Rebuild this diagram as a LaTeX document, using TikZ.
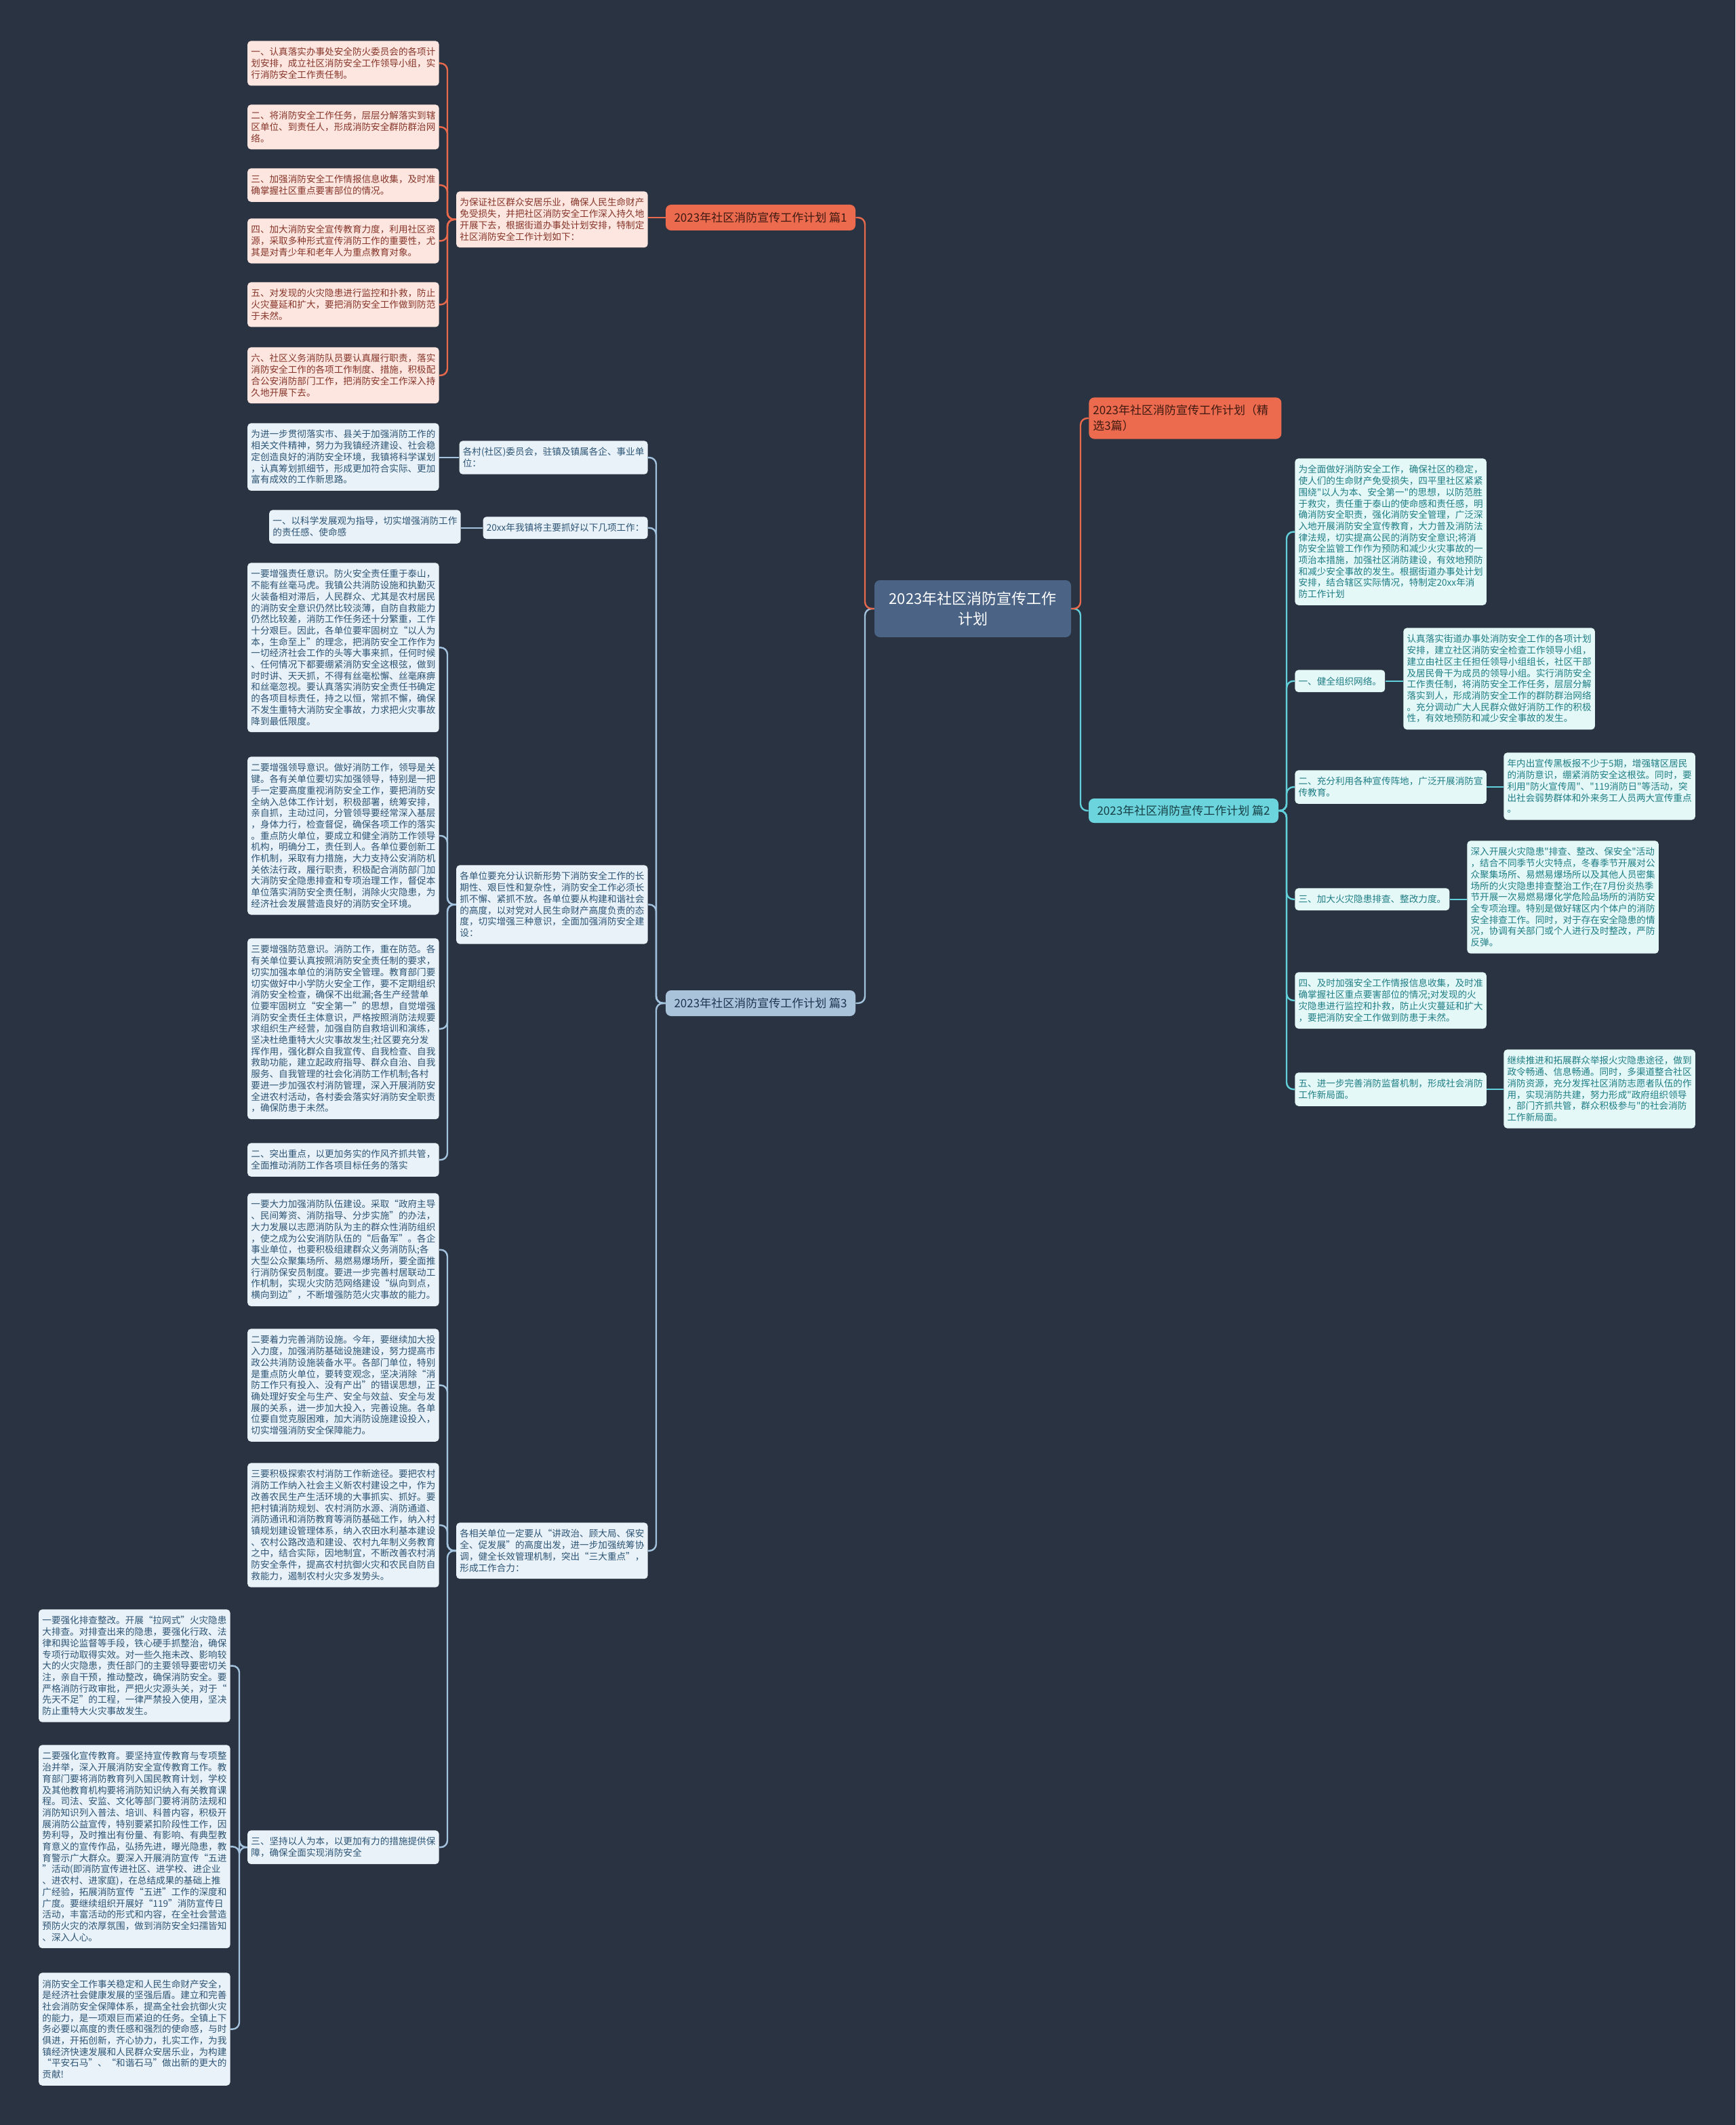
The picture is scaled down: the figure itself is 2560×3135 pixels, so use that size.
\documentclass[tikz,border=0pt]{standalone}
\usepackage{fontspec}
\setmainfont{Noto Sans CJK SC}
\newfontfamily\mmcjk{Noto Sans CJK SC}
\definecolor{bg}{HTML}{2A3341}
\definecolor{rootfill}{HTML}{4B6486}
\definecolor{orfill}{HTML}{EC6A4D}
\definecolor{orline}{HTML}{E8694B}
\definecolor{pkfill}{HTML}{FDE6DF}
\definecolor{pktext}{HTML}{86352A}
\definecolor{orhead}{HTML}{3D1A12}
\definecolor{blfill}{HTML}{A9C3DA}
\definecolor{blline}{HTML}{A3C3DE}
\definecolor{bxfill}{HTML}{E9F2F8}
\definecolor{bxtext}{HTML}{2D5475}
\definecolor{blhead}{HTML}{1F3550}
\definecolor{cyfill}{HTML}{6BD4DC}
\definecolor{cyline}{HTML}{62D0DA}
\definecolor{cxfill}{HTML}{E4F8F8}
\definecolor{cxtext}{HTML}{1F7D84}
\definecolor{cyhead}{HTML}{173F45}
\newcommand\mmboxfont{\mmcjk\fontsize{6.8pt}{8.35pt}\selectfont}
\newcommand\mmheadfont{\mmcjk\fontsize{8.5pt}{11.5pt}\selectfont}
\newcommand\mmrootfont{\mmcjk\fontsize{11pt}{15pt}\selectfont}
\tikzset{
  leaf/.style={rounded corners=2.5pt, inner xsep=2.6pt, inner ysep=5pt, align=left, font=\mmboxfont},
  pk/.style={leaf, fill=pkfill, text=pktext},
  bx/.style={leaf, fill=bxfill, text=bxtext},
  cx/.style={leaf, fill=cxfill, text=cxtext},
  head/.style={rounded corners=4pt, font=\mmheadfont, minimum width=140pt, minimum height=19pt, inner sep=3pt, align=center},
  conn/.style={line width=1.2pt, rounded corners=5pt},
  oc/.style={conn, draw=orline},
  bc/.style={conn, draw=blline},
  cc/.style={conn, draw=cyline},
}
\begin{document}
\begin{tikzpicture}[x=0.5pt,y=-0.5pt]
\fill[bg] (0,0) rectangle (2560,3135);
\useasboundingbox (0,0) rectangle (2560,3135);
% trunks
\coordinate (tA) at (1276,0);
\coordinate (tB) at (1594,0);
\coordinate (tP) at (660,0);
\coordinate (tQ) at (968,0);
\coordinate (tE) at (353,0);
\coordinate (tR) at (1898,0);
% root
\node[rounded corners=4pt, fill=rootfill, text=white, font=\mmrootfont, minimum width=145pt, minimum height=42pt, align=center] (root) at (1435,898) {2023年社区消防宣传工作\\计划};
% headers
\node[head, fill=orfill, text=orhead] (h1) at (1122,321) {2023年社区消防宣传工作计划 篇1};
\node[head, fill=blfill, text=blhead] (h3) at (1122,1480) {2023年社区消防宣传工作计划 篇3};
\node[head, fill=cyfill, text=cyhead, minimum height=18pt] (h2) at (1746,1196) {2023年社区消防宣传工作计划 篇2};
\node[rounded corners=4pt, fill=orfill, text=orhead, font=\mmheadfont, text width=136pt, inner xsep=3pt, inner ysep=5.5pt, align=left, anchor=north west] (h0) at (1606,586) {2023年社区消防宣传工作计划（精\\选3篇）};
% ---- 篇1
\node[pk, anchor=north east] (p7) at (956,282) {为保证社区群众安居乐业，确保人民生命财产\\免受损失，并把社区消防安全工作深入持久地\\开展下去，根据街道办事处计划安排，特制定\\社区消防安全工作计划如下：};
\node[pk, anchor=north east] (p1) at (648,60) {一、认真落实办事处安全防火委员会的各项计\\划安排，成立社区消防安全工作领导小组，实\\行消防安全工作责任制。};
\node[pk, anchor=north east] (p2) at (648,154) {二、将消防安全工作任务，层层分解落实到辖\\区单位、到责任人，形成消防安全群防群治网\\络。};
\node[pk, anchor=north east] (p3) at (648,248) {三、加强消防安全工作情报信息收集，及时准\\确掌握社区重点要害部位的情况。};
\node[pk, anchor=north east] (p4) at (648,322) {四、加大消防安全宣传教育力度，利用社区资\\源，采取多种形式宣传消防工作的重要性，尤\\其是对青少年和老年人为重点教育对象。};
\node[pk, anchor=north east] (p5) at (648,416) {五、对发现的火灾隐患进行监控和扑救，防止\\火灾蔓延和扩大，要把消防安全工作做到防范\\于未然。};
\node[pk, anchor=north east] (p6) at (648,512) {六、社区义务消防队员要认真履行职责，落实\\消防安全工作的各项工作制度、措施，积极配\\合公安消防部门工作，把消防安全工作深入持\\久地开展下去。};
% ---- 篇3
\node[bx, anchor=north east] (b1) at (956,650) {各村(社区)委员会，驻镇及镇属各企、事业单\\位：};
\node[bx, anchor=north east] (b1c) at (648,624) {为进一步贯彻落实市、县关于加强消防工作的\\相关文件精神，努力为我镇经济建设、社会稳\\定创造良好的消防安全环境，我镇将科学谋划\\，认真筹划抓细节，形成更加符合实际、更加\\富有成效的工作新思路。};
\node[bx, anchor=north east] (b2) at (956,762) {20xx年我镇将主要抓好以下几项工作：};
\node[bx, anchor=north east] (b2c) at (680,752) {一、以科学发展观为指导，切实增强消防工作\\的责任感、使命感};
\node[bx, anchor=north east] (b3) at (956,1276) {各单位要充分认识新形势下消防安全工作的长\\期性、艰巨性和复杂性，消防安全工作必须长\\抓不懈、紧抓不放。各单位要从构建和谐社会\\的高度，以对党对人民生命财产高度负责的态\\度，切实增强三种意识，全面加强消防安全建\\设：};
\node[bx, anchor=north east] (c1) at (648,830) {一要增强责任意识。防火安全责任重于泰山，\\不能有丝毫马虎。我镇公共消防设施和执勤灭\\火装备相对滞后，人民群众、尤其是农村居民\\的消防安全意识仍然比较淡薄，自防自救能力\\仍然比较差，消防工作任务还十分繁重，工作\\十分艰巨。因此，各单位要牢固树立“以人为\\本，生命至上”的理念，把消防安全工作作为\\一切经济社会工作的头等大事来抓，任何时候\\、任何情况下都要绷紧消防安全这根弦，做到\\时时讲、天天抓，不得有丝毫松懈、丝毫麻痹\\和丝毫忽视。要认真落实消防安全责任书确定\\的各项目标责任，持之以恒，常抓不懈，确保\\不发生重特大消防安全事故，力求把火灾事故\\降到最低限度。};
\node[bx, anchor=north east] (c2) at (648,1116) {二要增强领导意识。做好消防工作，领导是关\\键。各有关单位要切实加强领导，特别是一把\\手一定要高度重视消防安全工作，要把消防安\\全纳入总体工作计划，积极部署，统筹安排，\\亲自抓，主动过问，分管领导要经常深入基层\\，身体力行，检查督促，确保各项工作的落实\\。重点防火单位，要成立和健全消防工作领导\\机构，明确分工，责任到人。各单位要创新工\\作机制，采取有力措施，大力支持公安消防机\\关依法行政，履行职责，积极配合消防部门加\\大消防安全隐患排查和专项治理工作，督促本\\单位落实消防安全责任制，消除火灾隐患，为\\经济社会发展营造良好的消防安全环境。};
\node[bx, anchor=north east] (c3) at (648,1384) {三要增强防范意识。消防工作，重在防范。各\\有关单位要认真按照消防安全责任制的要求，\\切实加强本单位的消防安全管理。教育部门要\\切实做好中小学防火安全工作，要不定期组织\\消防安全检查，确保不出纰漏;各生产经营单\\位要牢固树立“安全第一”的思想，自觉增强\\消防安全责任主体意识，严格按照消防法规要\\求组织生产经营，加强自防自救培训和演练，\\坚决杜绝重特大火灾事故发生;社区要充分发\\挥作用，强化群众自我宣传、自我检查、自我\\救助功能，建立起政府指导、群众自治、自我\\服务、自我管理的社会化消防工作机制;各村\\要进一步加强农村消防管理，深入开展消防安\\全进农村活动，各村委会落实好消防安全职责\\，确保防患于未然。};
\node[bx, anchor=north east] (c4) at (648,1686) {二、突出重点，以更加务实的作风齐抓共管，\\全面推动消防工作各项目标任务的落实};
\node[bx, anchor=north east] (b4) at (956,2246) {各相关单位一定要从“讲政治、顾大局、保安\\全、促发展”的高度出发，进一步加强统筹协\\调，健全长效管理机制，突出“三大重点”，\\形成工作合力：};
\node[bx, anchor=north east] (d1) at (648,1760) {一要大力加强消防队伍建设。采取“政府主导\\、民间筹资、消防指导、分步实施”的办法，\\大力发展以志愿消防队为主的群众性消防组织\\，使之成为公安消防队伍的“后备军”。各企\\事业单位，也要积极组建群众义务消防队;各\\大型公众聚集场所、易燃易爆场所，要全面推\\行消防保安员制度。要进一步完善村居联动工\\作机制，实现火灾防范网络建设“纵向到点，\\横向到边”，不断增强防范火灾事故的能力。};
\node[bx, anchor=north east] (d2) at (648,1960) {二要着力完善消防设施。今年，要继续加大投\\入力度，加强消防基础设施建设，努力提高市\\政公共消防设施装备水平。各部门单位，特别\\是重点防火单位，要转变观念，坚决消除“消\\防工作只有投入、没有产出”的错误思想，正\\确处理好安全与生产、安全与效益、安全与发\\展的关系，进一步加大投入，完善设施。各单\\位要自觉克服困难，加大消防设施建设投入，\\切实增强消防安全保障能力。};
\node[bx, anchor=north east] (d3) at (648,2158) {三要积极探索农村消防工作新途径。要把农村\\消防工作纳入社会主义新农村建设之中，作为\\改善农民生产生活环境的大事抓实、抓好。要\\把村镇消防规划、农村消防水源、消防通道、\\消防通讯和消防教育等消防基础工作，纳入村\\镇规划建设管理体系，纳入农田水利基本建设\\、农村公路改造和建设、农村九年制义务教育\\之中，结合实际，因地制宜，不断改善农村消\\防安全条件，提高农村抗御火灾和农民自防自\\救能力，遏制农村火灾多发势头。};
\node[bx, anchor=north east] (d4) at (648,2700) {三、坚持以人为本，以更加有力的措施提供保\\障，确保全面实现消防安全};
\node[bx, anchor=north east] (e1) at (340,2374) {一要强化排查整改。开展“拉网式”火灾隐患\\大排查。对排查出来的隐患，要强化行政、法\\律和舆论监督等手段，铁心硬手抓整治，确保\\专项行动取得实效。对一些久拖未改、影响较\\大的火灾隐患，责任部门的主要领导要密切关\\注，亲自干预，推动整改，确保消防安全。要\\严格消防行政审批，严把火灾源头关，对于“\\先天不足”的工程，一律严禁投入使用，坚决\\防止重特大火灾事故发生。};
\node[bx, anchor=north east] (e2) at (340,2574) {二要强化宣传教育。要坚持宣传教育与专项整\\治并举，深入开展消防安全宣传教育工作。教\\育部门要将消防教育列入国民教育计划，学校\\及其他教育机构要将消防知识纳入有关教育课\\程。司法、安监、文化等部门要将消防法规和\\消防知识列入普法、培训、科普内容，积极开\\展消防公益宣传，特别要紧扣阶段性工作，因\\势利导，及时推出有份量、有影响、有典型教\\育意义的宣传作品，弘扬先进，曝光隐患，教\\育警示广大群众。要深入开展消防宣传“五进\\”活动(即消防宣传进社区、进学校、进企业\\、进农村、进家庭)，在总结成果的基础上推\\广经验，拓展消防宣传“五进”工作的深度和\\广度。要继续组织开展好“119”消防宣传日\\活动，丰富活动的形式和内容，在全社会营造\\预防火灾的浓厚氛围，做到消防安全妇孺皆知\\、深入人心。};
\node[bx, anchor=north east] (e3) at (340,2910) {消防安全工作事关稳定和人民生命财产安全，\\是经济社会健康发展的坚强后盾。建立和完善\\社会消防安全保障体系，提高全社会抗御火灾\\的能力，是一项艰巨而紧迫的任务。全镇上下\\务必要以高度的责任感和强烈的使命感，与时\\俱进，开拓创新，齐心协力，扎实工作，为我\\镇经济快速发展和人民群众安居乐业，为构建\\“平安石马”、“和谐石马”做出新的更大的\\贡献!};
% ---- 篇2
\node[cx, anchor=north west] (r0) at (1910,676) {为全面做好消防安全工作，确保社区的稳定，\\使人们的生命财产免受损失，四平里社区紧紧\\围绕"以人为本、安全第一"的思想，以防范胜\\于救灾，责任重于泰山的使命感和责任感，明\\确消防安全职责，强化消防安全管理，广泛深\\入地开展消防安全宣传教育，大力普及消防法\\律法规，切实提高公民的消防安全意识;将消\\防安全监管工作作为预防和减少火灾事故的一\\项治本措施，加强社区消防建设，有效地预防\\和减少安全事故的发生。根据街道办事处计划\\安排，结合辖区实际情况，特制定20xx年消\\防工作计划};
\node[cx, anchor=north west] (r1) at (1910,988) {一、健全组织网络。};
\node[cx, anchor=north west] (r1c) at (2070,926) {认真落实街道办事处消防安全工作的各项计划\\安排，建立社区消防安全检查工作领导小组，\\建立由社区主任担任领导小组组长，社区干部\\及居民骨干为成员的领导小组。实行消防安全\\工作责任制，将消防安全工作任务，层层分解\\落实到人，形成消防安全工作的群防群治网络\\。充分调动广大人民群众做好消防工作的积极\\性，有效地预防和减少安全事故的发生。};
\node[cx, anchor=north west] (r2) at (1910,1136) {二、充分利用各种宣传阵地，广泛开展消防宣\\传教育。};
\node[cx, anchor=north west] (r2c) at (2218,1110) {年内出宣传黑板报不少于5期，增强辖区居民\\的消防意识，绷紧消防安全这根弦。同时，要\\利用"防火宣传周"、"119消防日"等活动，突\\出社会弱势群体和外来务工人员两大宣传重点\\。};
\node[cx, anchor=north west] (r3) at (1910,1310) {三、加大火灾隐患排查、整改力度。};
\node[cx, anchor=north west] (r3c) at (2164,1240) {深入开展火灾隐患"排查、整改、保安全"活动\\，结合不同季节火灾特点，冬春季节开展对公\\众聚集场所、易燃易爆场所以及其他人员密集\\场所的火灾隐患排查整治工作;在7月份炎热季\\节开展一次易燃易爆化学危险品场所的消防安\\全专项治理。特别是做好辖区内个体户的消防\\安全排查工作。同时，对于存在安全隐患的情\\况，协调有关部门或个人进行及时整改，严防\\反弹。};
\node[cx, anchor=north west] (r4) at (1910,1434) {四、及时加强安全工作情报信息收集，及时准\\确掌握社区重点要害部位的情况;对发现的火\\灾隐患进行监控和扑救，防止火灾蔓延和扩大\\，要把消防安全工作做到防患于未然。};
\node[cx, anchor=north west] (r5) at (1910,1582) {五、进一步完善消防监督机制，形成社会消防\\工作新局面。};
\node[cx, anchor=north west] (r5c) at (2218,1548) {继续推进和拓展群众举报火灾隐患途径，做到\\政令畅通、信息畅通。同时，多渠道整合社区\\消防资源，充分发挥社区消防志愿者队伍的作\\用，实现消防共建，努力形成"政府组织领导\\，部门齐抓共管，群众积极参与"的社会消防\\工作新局面。};
% ---- connectors
\draw[bc] (root.west) -- (root.west -| tA) |- (h3.east);
\draw[oc] (root.west) -- (root.west -| tA) |- (h1.east);
\draw[cc] (root.east) -- (root.east -| tB) |- (h2.west);
\draw[oc] (root.east) -- (root.east -| tB) |- (h0.west);
% 篇1
\draw[oc] (h1.west) -- (h1.west -| p7.east);
\foreach \c in {p1,p2,p3,p4,p5,p6}{
  \draw[oc] (p7.west) -- (p7.west -| tP) |- (\c.east);
}
% 篇3
\foreach \c in {b1,b2,b3,b4}{
  \draw[bc] (h3.west) -- (h3.west -| tQ) |- (\c.east);
}
\draw[bc] (b1.west) -- (b1.west -| b1c.east);
\draw[bc] (b2.west) -- (b2.west -| b2c.east);
\foreach \c in {c1,c2,c3,c4}{
  \draw[bc] (b3.west) -- (b3.west -| tP) |- (\c.east);
}
\foreach \c in {d1,d2,d3,d4}{
  \draw[bc] (b4.west) -- (b4.west -| tP) |- (\c.east);
}
\foreach \c in {e1,e2,e3}{
  \draw[bc] (d4.west) -- (d4.west -| tE) |- (\c.east);
}
% 篇2
\foreach \c in {r0,r1,r2,r3,r4,r5}{
  \draw[cc] (h2.east) -- (h2.east -| tR) |- (\c.west);
}
\draw[cc] (r1.east) -- (r1.east -| r1c.west);
\draw[cc] (r2.east) -- (r2.east -| r2c.west);
\draw[cc] (r3.east) -- (r3.east -| r3c.west);
\draw[cc] (r5.east) -- (r5.east -| r5c.west);
\end{tikzpicture}
\end{document}
